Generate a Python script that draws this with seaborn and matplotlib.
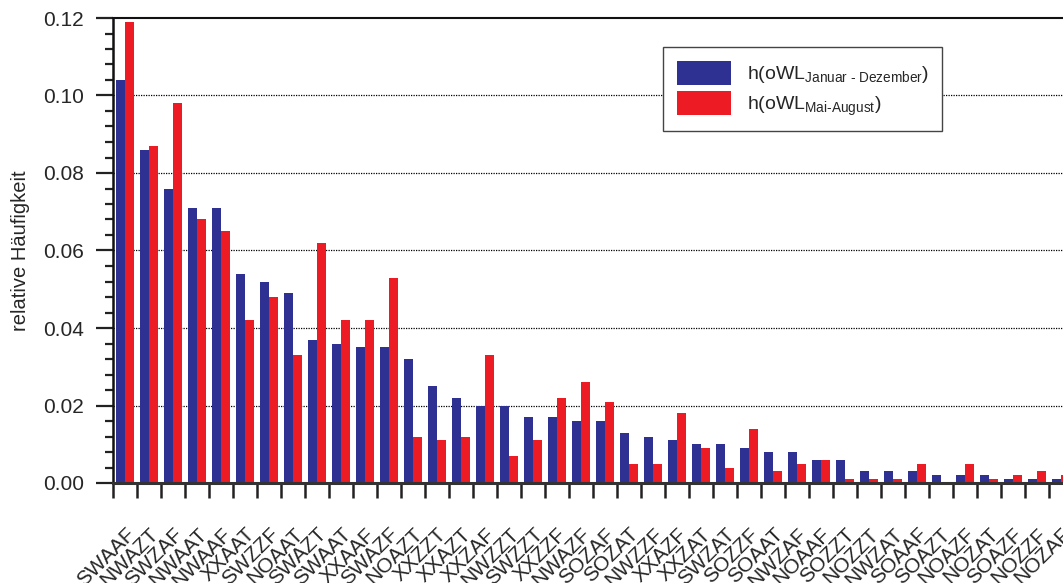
import numpy as np
import pandas as pd
import matplotlib
matplotlib.use("Agg")
import matplotlib.pyplot as plt
from matplotlib.ticker import MultipleLocator, FixedLocator
import seaborn as sns

categories = ["SWAAF", "NWAZT", "SWZAF", "NWAAT", "NWAAF", "XXAAT", "SWZZF", "NOAAT",
              "SWAZT", "SWAAT", "XXAAF", "SWAZF", "NOAZT", "XXZZT", "XXAZT", "XXZAF",
              "NWZZT", "SWZZT", "XXZZF", "NWAZF", "SOZAF", "SOZAT", "NWZZF", "XXAZF",
              "XXZAT", "SWZAT", "SOZZF", "SOAAT", "NWZAF", "NOAAF", "SOZZT", "NOZZT",
              "NWZAT", "SOAAF", "SOAZT", "NOAZF", "NOZAT", "SOAZF", "NOZZF", "NOZAF"]
year_values = [0.104, 0.086, 0.076, 0.071, 0.071, 0.054, 0.052, 0.049,
               0.037, 0.036, 0.035, 0.035, 0.032, 0.025, 0.022, 0.020,
               0.020, 0.017, 0.017, 0.016, 0.016, 0.013, 0.012, 0.011,
               0.010, 0.010, 0.009, 0.008, 0.008, 0.006, 0.006, 0.003,
               0.003, 0.003, 0.002, 0.002, 0.002, 0.001, 0.001, 0.001]
summer_values = [0.119, 0.087, 0.098, 0.068, 0.065, 0.042, 0.048, 0.033,
                 0.062, 0.042, 0.042, 0.053, 0.012, 0.011, 0.012, 0.033,
                 0.007, 0.011, 0.022, 0.026, 0.021, 0.005, 0.005, 0.018,
                 0.009, 0.004, 0.014, 0.003, 0.005, 0.006, 0.001, 0.001,
                 0.001, 0.005, 0.000, 0.005, 0.001, 0.002, 0.003, 0.002]
series_labels = [r"h(oWL$_{\mathrm{Januar\ \text{-}\ Dezember}}$)",
                 r"h(oWL$_{\mathrm{Mai\text{-}August}}$)"]
colors = ["#2E3192", "#ED1C24"]
y_ticklabels = ["0.00", "0.02", "0.04", "0.06", "0.08", "0.10", "0.12"]

df = pd.DataFrame({
    "Wetterlage": categories * 2,
    "Häufigkeit": year_values + summer_values,
    "Reihe": [series_labels[0]] * len(categories) + [series_labels[1]] * len(categories),
})

sns.set_style("white")
plt.rcParams["font.family"] = ["Liberation Sans", "DejaVu Sans"]
plt.rcParams["mathtext.fontset"] = "custom"
plt.rcParams["mathtext.rm"] = "Liberation Sans"
plt.rcParams["mathtext.it"] = "Liberation Sans:italic"

fig = plt.figure(figsize=(10.63, 5.83), dpi=100)
ax = fig.add_axes([113 / 1063, 1 - 483 / 583, 1 - 113 / 1063, (483 - 18) / 583])

sns.barplot(data=df, x="Wetterlage", y="Häufigkeit", hue="Reihe", order=categories,
            hue_order=series_labels, palette=colors, width=0.75, gap=0,
            saturation=1, edgecolor="none", linewidth=0, ax=ax, legend=True)

ax.set_xlim(-0.5, -0.5 + 950 / 24)
ax.set_ylim(0, 0.12)
ax.set_axisbelow(True)

# y axis
ax.yaxis.set_major_locator(FixedLocator([0, 0.02, 0.04, 0.06, 0.08, 0.10, 0.12]))
ax.set_yticklabels(y_ticklabels)
ax.yaxis.set_minor_locator(MultipleLocator(0.004))
ax.tick_params(axis="y", which="major", direction="out", length=12, width=1.6,
               labelsize=15, pad=9, color="#222222", left=True)
ax.tick_params(axis="y", which="minor", direction="out", length=6, width=1.6,
               color="#222222", left=True)
ax.set_ylabel("relative Häufigkeit", fontsize=14.5)
ax.yaxis.set_label_coords(-0.087, 0.5)

# gridlines
for yv in [0.02, 0.04, 0.06, 0.08, 0.10]:
    ax.axhline(yv, color="black", linestyle=(0, (1, 1)), linewidth=0.9, zorder=0)

# x axis: labels at centers, ticks at boundaries
ax.set_xticks(np.arange(len(categories)))
ax.set_xticklabels(categories, rotation=45, ha="right", va="top",
                   rotation_mode="anchor", fontsize=15)
ax.xaxis.set_minor_locator(FixedLocator(np.arange(len(categories) + 1) - 0.5))
ax.tick_params(axis="x", which="major", length=0, pad=30)
ax.tick_params(axis="x", which="minor", direction="out", length=11, width=1.8,
               color="#222222", bottom=True)
ax.set_xlabel("")

for side in ["left", "top"]:
    ax.spines[side].set_visible(True)
    ax.spines[side].set_color("#111111")
ax.spines["left"].set_linewidth(1.8)
ax.spines["top"].set_linewidth(1.5)
ax.spines["bottom"].set_color("#333333")
ax.spines["bottom"].set_linewidth(2.2)
ax.spines["right"].set_visible(False)

leg = ax.legend(loc="upper left", bbox_to_anchor=((663 - 113) / 950, (483 - 47) / 465),
                fontsize=14, frameon=True, fancybox=False, edgecolor="#444444",
                framealpha=1, handlelength=2.8, handleheight=1.55, borderpad=0.7,
                labelspacing=0.3, handletextpad=0.8, borderaxespad=0)
leg.get_frame().set_linewidth(1.0)

fig.savefig("out.png", dpi=100)
